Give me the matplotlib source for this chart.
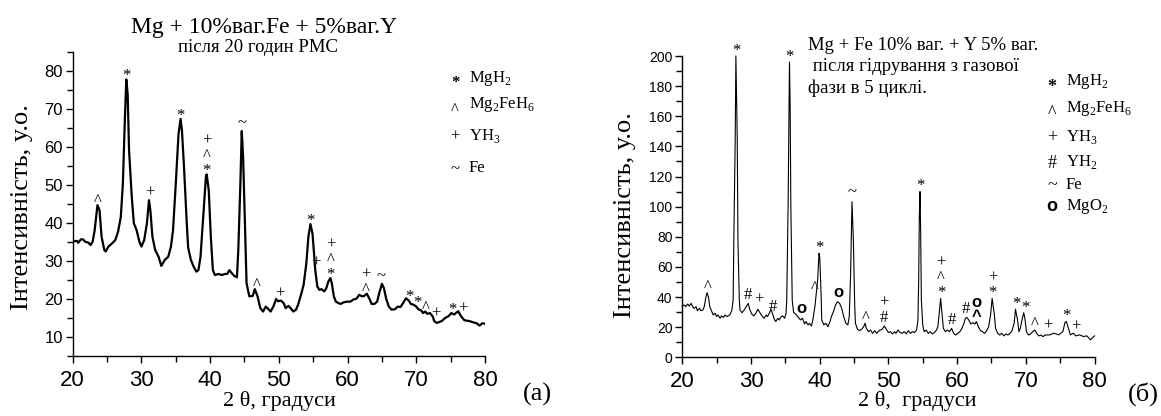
import matplotlib.pyplot as plt
import numpy as np
from matplotlib.ticker import MultipleLocator

plt.rcParams['font.family'] = ['Liberation Serif', 'DejaVu Serif']
plt.rcParams['mathtext.fontset'] = 'custom'
plt.rcParams['mathtext.rm'] = 'Liberation Serif'

SANS = 'Liberation Sans'

# (a) Mg + 10% Fe + 5% Y after 20 h of reactive milling
two_theta_a = [
    20.0, 20.6, 20.8, 21.2, 21.5, 21.8, 22.3, 22.6, 22.9, 23.2, 23.6, 23.9, 24.2, 24.6,
    24.8, 25.2, 25.7, 26.2, 26.6, 27.0, 27.3, 27.6, 27.8, 28.0, 28.2, 28.6, 28.9, 29.3,
    29.7, 30.0, 30.4, 30.8, 31.1, 31.3, 31.6, 32.0, 32.5, 32.9, 33.4, 33.9, 34.3, 34.6,
    35.0, 35.4, 35.7, 35.9, 36.2, 36.6, 36.8, 37.2, 37.6, 38.0, 38.3, 38.6, 39.0, 39.4,
    39.5, 39.8, 40.1, 40.4, 40.7, 41.2, 41.7, 42.2, 42.5, 42.8, 43.1, 43.5, 43.9, 44.1,
    44.4, 44.6, 44.8, 45.1, 45.3, 45.7, 46.2, 46.5, 46.9, 47.3, 47.7, 48.1, 48.5, 48.8,
    49.2, 49.6, 49.9, 50.3, 50.7, 51.0, 51.4, 51.7, 52.1, 52.5, 52.8, 53.3, 53.6, 54.0,
    54.3, 54.6, 54.9, 55.3, 55.6, 55.9, 56.2, 56.6, 56.9, 57.2, 57.5, 57.7, 58.0, 58.3,
    58.7, 59.0, 59.4, 59.9, 60.4, 60.9, 61.3, 61.7, 62.1, 62.4, 62.8, 63.2, 63.5, 63.9,
    64.3, 64.6, 65.0, 65.3, 65.6, 66.0, 66.4, 66.9, 67.3, 67.7, 68.0, 68.5, 68.9, 69.2,
    69.6, 70.0, 70.3, 70.7, 71.0, 71.3, 71.6, 72.0, 72.4, 72.6, 73.0, 73.7, 74.2, 74.7,
    75.1, 75.5, 76.1, 76.5, 77.0, 77.7, 78.2, 78.8, 79.2, 79.6, 80.0]
intensity_a = [
    35.1, 35.3, 34.8, 35.7, 35.7, 35.1, 34.8, 34.2, 35.1, 38.1, 44.7, 43.4, 36.4, 32.9,
    32.5, 33.8, 34.6, 35.5, 37.7, 41.6, 50.3, 67.8, 77.8, 73.9, 59.1, 46.8, 39.9, 38.1,
    35.1, 33.8, 35.5, 39.9, 46.0, 43.4, 36.4, 32.9, 31.1, 28.7, 30.3, 31.1, 33.8, 38.1,
    50.3, 63.4, 67.4, 64.3, 54.7, 39.9, 33.5, 30.3, 28.5, 27.2, 27.6, 31.1, 41.6, 52.5,
    52.8, 48.6, 36.4, 27.6, 26.3, 26.6, 26.3, 26.6, 26.6, 27.6, 26.9, 26.1, 25.7, 32.9,
    50.3, 64.2, 57.3, 37.2, 24.2, 20.7, 20.8, 22.6, 20.7, 17.6, 16.7, 18.0, 17.3, 16.7,
    18.0, 20.0, 19.4, 19.6, 18.9, 17.6, 18.2, 17.6, 16.7, 17.2, 18.5, 21.6, 23.7, 29.4,
    36.4, 39.7, 37.2, 27.6, 23.3, 22.4, 22.6, 22.0, 22.8, 24.6, 25.5, 24.2, 20.7, 19.3,
    18.9, 18.7, 19.1, 19.3, 19.3, 19.9, 20.1, 21.1, 20.7, 20.8, 21.4, 20.0, 18.7, 18.7,
    19.3, 21.5, 24.0, 22.8, 20.2, 18.0, 17.2, 17.3, 18.0, 17.9, 18.7, 20.2, 19.6, 18.7,
    18.5, 18.0, 17.3, 17.0, 16.3, 16.7, 16.1, 16.3, 15.4, 14.2, 13.7, 14.2, 15.0, 15.5,
    16.3, 15.9, 16.8, 15.5, 14.4, 14.2, 13.9, 13.6, 13.0, 13.6, 13.5]

# (б) the same alloy after hydrogenation from the gas phase, 5th cycle
two_theta_b = [
    20.0, 20.3, 20.5, 20.8, 21.0, 21.3, 21.5, 21.7, 22.0, 22.2, 22.5, 22.7, 23.0, 23.2,
    23.4, 23.6, 23.8, 24.0, 24.3, 24.5, 24.8, 25.0, 25.2, 25.5, 25.7, 26.0, 26.2, 26.5,
    26.7, 26.9, 27.2, 27.4, 27.5, 27.7, 27.8, 28.0, 28.1, 28.3, 28.4, 28.7, 29.0, 29.3,
    29.6, 29.8, 30.1, 30.4, 30.7, 31.0, 31.2, 31.5, 31.7, 31.9, 32.2, 32.4, 32.7, 32.9,
    33.2, 33.4, 33.6, 33.9, 34.1, 34.4, 34.6, 34.9, 35.1, 35.2, 35.4, 35.6, 35.7, 35.8,
    36.0, 36.2, 36.5, 36.8, 37.2, 37.5, 37.8, 38.0, 38.3, 38.5, 38.8, 39.0, 39.3, 39.5,
    39.7, 39.9, 40.0, 40.2, 40.3, 40.6, 40.9, 41.2, 41.5, 41.7, 42.0, 42.3, 42.6, 42.9,
    43.2, 43.5, 43.8, 44.1, 44.3, 44.5, 44.7, 44.9, 45.1, 45.2, 45.5, 45.8, 46.1, 46.4,
    46.6, 46.8, 47.1, 47.4, 47.7, 48.0, 48.3, 48.5, 48.8, 49.1, 49.4, 49.7, 50.0, 50.3,
    50.6, 50.9, 51.1, 51.4, 51.7, 52.0, 52.3, 52.6, 52.9, 53.2, 53.5, 53.8, 54.1, 54.3,
    54.4, 54.5, 54.6, 54.7, 54.8, 55.0, 55.2, 55.5, 55.8, 56.1, 56.4, 56.7, 57.0, 57.2,
    57.4, 57.6, 57.8, 58.0, 58.3, 58.6, 58.9, 59.2, 59.5, 59.8, 60.1, 60.4, 60.7, 61.0,
    61.2, 61.4, 61.7, 62.0, 62.3, 62.6, 62.8, 63.1, 63.4, 63.7, 64.0, 64.3, 64.6, 64.9,
    65.1, 65.4, 65.6, 65.9, 66.2, 66.5, 66.8, 67.1, 67.4, 67.7, 68.0, 68.3, 68.5, 68.8,
    69.0, 69.2, 69.5, 69.7, 69.9, 70.1, 70.4, 70.7, 71.0, 71.3, 71.6, 71.9, 72.2, 72.5,
    72.8, 73.1, 73.5, 74.1, 74.8, 75.4, 75.7, 75.9, 76.2, 76.5, 76.9, 77.3, 77.8, 78.4,
    78.9, 79.4, 79.8, 80.0]
intensity_b = [
    34.0, 34.7, 33.6, 35.4, 34.0, 35.8, 33.6, 32.5, 33.6, 30.9, 32.5, 30.9, 31.4, 33.6,
    39.1, 42.9, 40.2, 33.6, 30.3, 28.1, 29.2, 27.0, 28.1, 25.9, 27.5, 26.5, 28.1, 27.0,
    27.5, 28.1, 30.9, 38.0, 77.8, 144.2, 200.0, 144.0, 77.8, 38.0, 31.4, 29.6, 31.4, 33.6,
    35.8, 31.9, 28.8, 27.5, 29.2, 31.9, 30.3, 28.1, 27.0, 25.9, 28.1, 27.0, 29.6, 31.9,
    28.1, 25.2, 23.7, 25.9, 24.8, 27.0, 27.5, 25.9, 29.2, 38.0, 100.0, 196.0, 166.0, 100.0,
    38.0, 29.6, 28.8, 27.0, 24.8, 25.9, 22.1, 23.7, 21.5, 22.6, 20.8, 24.8, 33.6, 42.4,
    51.3, 69.0, 66.8, 42.4, 24.8, 21.5, 22.6, 20.3, 23.7, 27.0, 30.3, 34.7, 36.9, 35.8,
    32.5, 27.0, 22.6, 21.5, 27.0, 55.7, 103.3, 77.8, 33.6, 22.6, 18.6, 17.7, 18.6, 20.3,
    22.6, 19.2, 17.0, 18.1, 15.9, 17.7, 15.9, 17.0, 18.1, 18.6, 20.8, 18.6, 16.4, 17.0,
    15.5, 17.0, 15.9, 18.1, 16.4, 15.9, 17.0, 15.5, 17.7, 15.9, 17.0, 16.4, 18.1, 24.8,
    49.1, 93.0, 110.0, 82.0, 38.0, 21.4, 17.0, 18.1, 15.9, 17.0, 15.5, 16.4, 18.1, 20.3,
    29.2, 39.1, 29.2, 19.2, 17.0, 18.1, 17.0, 19.2, 15.9, 14.8, 15.9, 17.0, 19.2, 22.6,
    25.9, 26.5, 24.8, 22.1, 23.0, 22.1, 23.7, 20.3, 17.7, 17.0, 15.9, 17.7, 20.3, 29.2,
    39.1, 29.2, 19.2, 15.9, 14.8, 15.9, 14.2, 15.5, 14.8, 15.9, 17.7, 22.6, 31.9, 24.8,
    17.0, 19.2, 25.9, 29.6, 24.8, 17.0, 14.8, 15.5, 17.0, 18.1, 15.9, 14.2, 14.8, 13.7,
    14.8, 14.8, 14.9, 16.0, 14.9, 17.1, 23.1, 23.8, 19.3, 14.9, 16.0, 14.2, 14.9, 13.8,
    14.2, 11.6, 13.3, 14.2]

# phase marks over reflections: (2theta, symbols stacked bottom to top)
peaks_a = [(23.7, '^'), (27.8, '*'), (31.2, '+'), (35.7, '*'), (39.5, '*^+'),
           (44.6, '~'), (46.7, '^'), (50.2, '+'), (54.6, '*'), (55.4, '+'),
           (57.5, '*^+'), (62.7, '^+'), (64.9, '~'), (69.0, '*'), (70.2, '*'),
           (71.3, '^'), (72.8, '+'), (75.3, '*'), (76.8, '+')]
peaks_b = [(23.7, '^'), (27.85, '*'), (29.6, '#'), (31.2, '+'), (33.2, '#'),
           (35.65, '*'), (37.3, 'o'), (39.2, '^'), (40.0, '*'), (42.8, 'o'),
           (44.7, '~'), (46.7, '^'), (49.4, '#+'), (54.6, '*'), (57.65, '*^+'),
           (59.3, '#'), (61.3, '#'), (62.8, '^o'), (65.2, '*+'), (68.6, '*'),
           (69.9, '*'), (71.3, '^'), (73.2, '+'), (75.9, '*'), (77.3, '+')]

legend_a = [('*', r'MgH$_\mathregular{2}$'), ('^', r'Mg$_\mathregular{2}$FeH$_\mathregular{6}$'),
            ('+', r'YH$_\mathregular{3}$'), ('~', 'Fe')]
legend_b = [('*', r'MgH$_\mathregular{2}$'), ('^', r'Mg$_\mathregular{2}$FeH$_\mathregular{6}$'),
            ('+', r'YH$_\mathregular{3}$'), ('#', r'YH$_\mathregular{2}$'), ('~', 'Fe'),
            ('o', r'MgO$_\mathregular{2}$')]

# height of each glyph's ink centre above its baseline, in em
GLYPH_MID = {'*': 0.55, '^': 0.52, '+': 0.3, '~': 0.28, '#': 0.36, 'o': 0.25}
DESCENT = 0.22   # depth of the text box below the baseline, in em
LINE_GAP = 0.95  # line spacing inside a stack of marks

W, H = 1161, 416
fig = plt.figure(figsize=(W / 100, H / 100), dpi=100)


def axes_px(x0, y0, x1, y1):
    return fig.add_axes([x0 / W, 1 - y1 / H, (x1 - x0) / W, (y1 - y0) / H])


def style_axes(ax, ylim, ymaj, ymin, ysize):
    ax.set_xlim(20, 80)
    ax.set_ylim(*ylim)
    for s in ('top', 'right'):
        ax.spines[s].set_visible(False)
    for s in ('left', 'bottom'):
        ax.spines[s].set_linewidth(1.0)
    ax.xaxis.set_major_locator(MultipleLocator(10))
    ax.xaxis.set_minor_locator(MultipleLocator(5))
    ax.yaxis.set_major_locator(MultipleLocator(ymaj))
    ax.yaxis.set_minor_locator(MultipleLocator(ymin))
    ax.tick_params(which='both', direction='out', width=1.0)
    ax.tick_params(which='major', length=5)
    ax.tick_params(which='minor', length=4)
    ax.tick_params(axis='x', pad=5)
    ax.tick_params(axis='y', pad=2)
    for lab in ax.get_xticklabels():
        lab.set_fontfamily(SANS)
        lab.set_fontsize(16)
    for lab in ax.get_yticklabels():
        lab.set_fontfamily(SANS)
        lab.set_fontsize(ysize)


def mark_peaks(ax, tt, inten, peaks, size, d0):
    tt = np.asarray(tt)
    inten = np.asarray(inten)
    em = size / 0.72  # em in pixels at 100 dpi
    for x, syms in peaks:
        near = (tt >= x - 0.3) & (tt <= x + 0.3)
        top = inten[near].max() if near.any() else np.interp(x, tt, inten)
        # one text per stack, bottom mark written last
        dy = (d0 - (GLYPH_MID[syms[0]] + DESCENT) * em) * 0.72
        bold = 'o' in syms
        ax.annotate('\n'.join(reversed(syms)), (x, top), xytext=(0, dy),
                    textcoords='offset points', ha='center', va='bottom',
                    ma='center', fontsize=size, linespacing=LINE_GAP,
                    fontweight='bold' if bold else 'normal',
                    family=SANS if bold else 'Liberation Serif',
                    annotation_clip=False)


def legend(items, xs, xt, rows, size, sym_size):
    em = sym_size / 0.72
    for (s, name), yc in zip(items, rows):
        base = yc + GLYPH_MID[s] * em
        weight = 'bold' if s in 'o*' else 'normal'
        fam = SANS if s == 'o' else 'Liberation Serif'
        fig.text(xs / W, 1 - base / H, s, ha='center', va='baseline',
                 fontsize=sym_size, fontweight=weight, family=fam)
        fig.text(xt / W, 1 - yc / H, name, ha='left', va='center', fontsize=size)


# left panel
ax1 = axes_px(72.7, 52, 485, 356)
ax1.plot(two_theta_a, intensity_a, color='black', lw=1.6)
style_axes(ax1, (5, 85), 10, 5, 12)
mark_peaks(ax1, two_theta_a, intensity_a, peaks_a, 12, 8)
fig.text(279 / W, 1 - 401 / H, '2 θ, градуси', ha='center', va='center', fontsize=16)
fig.text(22 / W, 1 - 207 / H, 'Інтенсивність, у.о.', ha='center', va='center',
         rotation=90, fontsize=19)
fig.text(264 / W, 1 - 27 / H, 'Mg + 10%ваг.Fe + 5%ваг.Y', ha='center', va='center',
         fontsize=17)
fig.text(258 / W, 1 - 47 / H, 'після 20 годин РМС', ha='center', va='center',
         fontsize=13.5)
fig.text(537 / W, 1 - 394 / H, '(a)', ha='center', va='center', fontsize=19)
legend(legend_a, 455, 469, [78, 105, 136, 168], 12, 12)

# right panel
ax2 = axes_px(682.3, 56, 1094.5, 357.3)
ax2.plot(two_theta_b, intensity_b, color='black', lw=0.8, clip_on=False)
style_axes(ax2, (0, 200), 20, 10, 10)
mark_peaks(ax2, two_theta_b, intensity_b, peaks_b, 12, 10)
fig.text(917 / W, 1 - 401 / H, '2 θ,  градуси', ha='center', va='center', fontsize=16)
fig.text(625 / W, 1 - 215 / H, 'Інтенсивність, у.о.', ha='center', va='center',
         rotation=90, fontsize=19)
for line, y in zip(['Mg + Fe 10% ваг. + Y 5% ваг.', ' після гідрування з газової',
                    'фази в 5 циклі.'], [45, 66.7, 88]):
    fig.text(808 / W, 1 - y / H, line, ha='left', va='center', fontsize=13.5)
fig.text(1143 / W, 1 - 394 / H, '(б)', ha='center', va='center', fontsize=19)
legend(legend_b, 1052, 1066, [81.7, 108.3, 136.7, 161.7, 185, 206.7], 12, 13)

fig.savefig('out.png', dpi=100)
